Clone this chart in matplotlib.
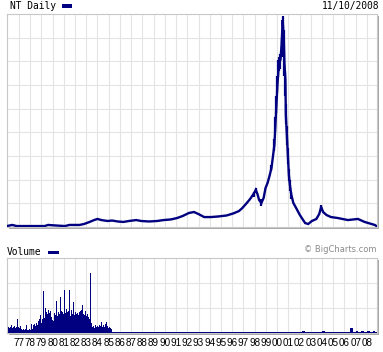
import numpy as np
import matplotlib as mpl
mpl.use('Agg')
import matplotlib.pyplot as plt
from matplotlib.patches import Rectangle

# price (split adjusted)
price_dates = [1975.94, 1976.4, 1976.8, 1979.3, 1979.6, 1980.2, 1981.1, 1981.5, 1982.4,
               1982.8, 1983.3, 1983.7, 1984.0, 1984.35, 1984.9, 1985.3, 1985.8, 1986.3,
               1986.8, 1987.45, 1987.9, 1988.6, 1989.3, 1989.9, 1990.55, 1991.1, 1991.6,
               1992.15, 1992.6, 1993.0, 1993.5, 1994.1, 1994.8, 1995.5, 1996.1, 1996.6,
               1996.9, 1997.3, 1997.6, 1997.9, 1998.1, 1998.25, 1998.4, 1998.6, 1998.8,
               1998.97, 1999.15, 1999.3, 1999.5, 1999.76, 1999.85, 1999.94, 2000.03,
               2000.12, 2000.2, 2000.3, 2000.4, 2000.5, 2000.6, 2000.65, 2000.74, 2000.78,
               2000.87, 2000.96, 2001.05, 2001.14, 2001.27, 2001.45, 2001.7, 2001.98,
               2002.2, 2002.5, 2002.77, 2003.1, 2003.5, 2003.75, 2003.93, 2004.1, 2004.4,
               2004.8, 2005.4, 2006.3, 2007.2, 2007.8, 2008.7, 2008.85]
price = [6, 13, 6, 6, 13, 10, 6, 13, 13,
         19, 32, 44, 51, 44, 38, 41, 35, 32,
         38, 44, 38, 35, 38, 44, 48, 57, 70,
         89, 95, 82, 63, 63, 67, 73, 86, 101,
         120, 152, 178, 209, 235, 209, 171, 152, 184,
         247, 279, 317, 374, 520, 647, 773, 900,
         995, 1046, 1059, 1154, 1312, 1186, 1046, 932, 710,
         583, 456, 330, 266, 203, 152, 120, 82,
         57, 25, 19, 38, 51, 82, 127, 95, 76,
         63, 57, 44, 51, 32, 13, 6]

# daily high / low range during the bubble
hl_dates = [1997.9, 1998.1, 1998.6, 1999.5, 1999.76, 1999.85, 1999.94, 2000.03, 2000.12,
            2000.2, 2000.3, 2000.4, 2000.5, 2000.6, 2000.65, 2000.74, 2000.78, 2000.87,
            2000.96, 2001.05, 2001.14, 2001.27, 2003.93]
hl_high = [225, 250, 175, 395, 560, 700, 830, 960, 1060,
           1075, 1095, 1200, 1335, 1250, 1100, 990, 780, 640,
           500, 370, 300, 225, 140]
hl_low = [190, 215, 135, 355, 480, 600, 720, 850, 950,
          990, 1000, 1080, 1200, 1100, 960, 830, 650, 520,
          400, 290, 230, 180, 105]

# monthly volume from Jan 1976 (hundred thousand shares)
vol_early = [6, 5, 7, 6, 8, 5, 6, 7, 5, 6, 14, 6, 5, 7,
             4, 3, 4, 3, 3, 4, 8, 3, 3, 4, 3, 9, 4,
             8, 9, 7, 10, 8,
             12, 31, 14, 18, 10, 14,
             42, 15, 25, 21, 19, 23, 20,
             22, 16, 13, 12, 14,
             20, 18, 32, 17, 21,
             19, 36, 22, 21, 19,
             43, 20, 24, 21, 26, 22, 43,
             17, 23, 19, 31,
             18, 21, 19, 20, 18, 21, 22,
             23, 28, 20, 19,
             18, 22, 17, 19, 16, 14,
             60,
             10, 6, 7, 5, 8, 6, 7,
             7, 6, 8, 7, 11, 6,
             8, 6, 9, 11, 7, 5, 6, 5, 4]
# quarterly volume from 1985 Q2 on
vol_late = [0.8, 0.8, 0.8,
            0.8, 0.8, 0.8, 0.8,   # 86
            0.8, 0.8, 0.8, 0.8,   # 87
            0.8, 0.8, 0.8, 0.8,   # 88
            0.8, 0.8, 0.8, 0.8,   # 89
            0.8, 0.8, 0.8, 0.8,   # 90
            0.8, 0.8, 0.8, 0.8,   # 91
            0.8, 0.8, 0.8, 0.8,   # 92
            0.8, 0.8, 0.8, 0.8,   # 93
            0.8, 0.8, 0.8, 0.8,   # 94
            0.8, 0.8, 0.8, 0.8,   # 95
            0.8, 0.8, 0.8, 0.8,   # 96
            0.8, 0.8, 0.8, 0.8,   # 97
            0.8, 0.8, 0.8, 0.8,   # 98
            0.8, 0.8, 0.8, 0.8,   # 99
            0.8, 0.8, 0.8, 0.8,   # 00
            0.8, 0.8, 0.8, 0.8,   # 01
            0.8, 2.0, 0.8, 0.8,   # 02
            0.8, 0.8, 0.8, 0.8,   # 03
            2.0, 0.8, 0.8, 0.8,   # 04
            0.8, 0.8, 0.8, 0.8,   # 05
            0.8, 0.8, 5.0, 1.0,   # 06
            2.0, 1.5, 2.0, 1.5,   # 07
            2.0, 1.5, 2.0, 1.0]   # 08

years = list(range(1977, 2009))
year_labels = ['%02d' % (y % 100) for y in years]

navy = '#000080'
grid_c = '#e4e4e4'
W, H = 383, 352
dpi = 100

fig = plt.figure(figsize=(W / dpi, H / dpi), dpi=dpi)
fig.patch.set_facecolor('white')


def panel(l, t, r, b):
    # pixel box -> axes, with grey drop shadow on right/bottom
    shadow = Rectangle(((l + 2) / W, 1 - (b + 2) / H), (r - l) / W, (b - t) / H,
                       transform=fig.transFigure, facecolor='#a8a8a8',
                       edgecolor='none', zorder=-1)
    fig.patches.append(shadow)
    ax = fig.add_axes([l / W, 1 - b / H, (r - l) / W, (b - t) / H])
    ax.set_facecolor('white')
    for s in ax.spines.values():
        s.set_color('#c8c8c8')
        s.set_linewidth(0.8)
    ax.set_xlim(1975.94, 2008.9)
    for y in years:
        ax.axvline(y, color=grid_c, lw=0.8, zorder=0)
    ax.tick_params(length=0, left=False, labelleft=False)
    return ax


ax1 = panel(7, 14, 377, 227)
ax1.set_ylim(0, 1350)
for g in range(150, 1350, 150):
    ax1.axhline(g, color=grid_c, lw=0.8, zorder=0)
ax1.plot(price_dates, price, color=navy, lw=1.7, solid_joinstyle='miter', zorder=3)
ax1.vlines(hl_dates, hl_low, hl_high, color=navy, lw=1.6, zorder=3)
ax1.set_xticks([])

ax2 = panel(7, 258, 377, 333)
ax2.set_ylim(0, 75)
for g in (25, 50):
    ax2.axhline(g, color=grid_c, lw=0.8, zorder=0)
early_x = 1976 + np.arange(len(vol_early)) / 12.0
late_x = 1985.25 + np.arange(len(vol_late)) / 4.0
ax2.bar(early_x, vol_early, width=1 / 12.0, align='edge', color=navy, lw=0, zorder=3)
ax2.bar(late_x, vol_late, width=0.25, align='edge', color=navy, lw=0, zorder=3)
ax2.set_xticks(years)
ax2.set_xticklabels(year_labels, fontsize=7.1, family='Liberation Sans')
ax2.tick_params(axis='x', pad=3.5)

mono = 'DejaVu Sans Mono'
fig.text(10 / W, 1 - 6 / H, 'NT Daily', fontsize=6.9, family=mono, va='center', ha='left')
fig.patches.append(Rectangle((62 / W, 1 - 7.5 / H), 10 / W, 3 / H, transform=fig.transFigure,
                             facecolor=navy, edgecolor='none'))
fig.text(379 / W, 1 - 6 / H, '11/10/2008', fontsize=6.9, family=mono, va='center', ha='right')
fig.text(7 / W, 1 - 252 / H, 'Volume', fontsize=6.9, family=mono, va='center', ha='left')
fig.patches.append(Rectangle((48 / W, 1 - 253.5 / H), 11 / W, 3 / H, transform=fig.transFigure,
                             facecolor=navy, edgecolor='none'))
fig.text(376 / W, 1 - 250 / H, '\u00a9 BigCharts.com', fontsize=6, color='#8a8a8a',
         va='center', ha='right')

fig.savefig('out.png', dpi=dpi)
